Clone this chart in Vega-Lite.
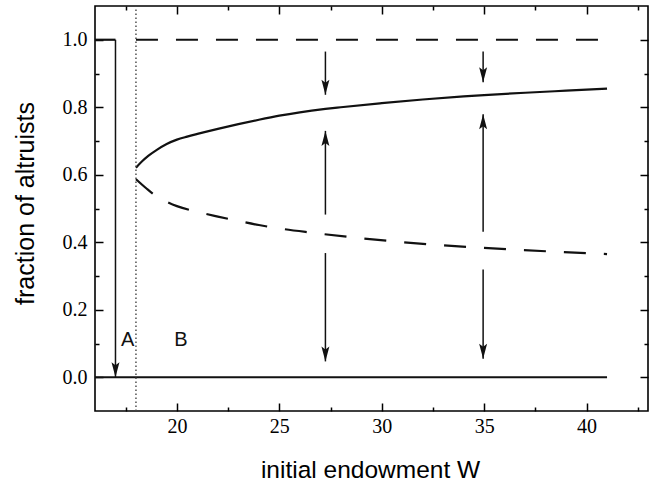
{
  "$schema": "https://vega.github.io/schema/vega-lite/v6.json",
  "autosize": "none",
  "padding": {"left": 95, "top": 6, "right": 8, "bottom": 72},
  "width": 553,
  "height": 405,
  "background": "white",
  "config": {
    "view": {"stroke": "#000", "strokeWidth": 1.6},
    "axis": {"domain": false, "grid": false, "tickColor": "#000", "tickWidth": 1.5, "labelColor": "#000", "titleColor": "#000", "titleFont": "Liberation Sans", "titleFontWeight": "normal"}
  },
  "datasets": {
    "solid": [
      {"series": "zero", "W": 16, "f": 0},
      {"series": "zero", "W": 41, "f": 0},
      {"series": "left", "W": 16, "f": 1},
      {"series": "left", "W": 17, "f": 1},
      {"series": "upper", "W": 18, "f": 0.621},
      {"series": "upper", "W": 18.3, "f": 0.64},
      {"series": "upper", "W": 18.6, "f": 0.656},
      {"series": "upper", "W": 19, "f": 0.673},
      {"series": "upper", "W": 19.5, "f": 0.691},
      {"series": "upper", "W": 20, "f": 0.704},
      {"series": "upper", "W": 20.5, "f": 0.713},
      {"series": "upper", "W": 21, "f": 0.721},
      {"series": "upper", "W": 22, "f": 0.736},
      {"series": "upper", "W": 23, "f": 0.75},
      {"series": "upper", "W": 24, "f": 0.763},
      {"series": "upper", "W": 25, "f": 0.775},
      {"series": "upper", "W": 26, "f": 0.785},
      {"series": "upper", "W": 27.25, "f": 0.795},
      {"series": "upper", "W": 28, "f": 0.8},
      {"series": "upper", "W": 30, "f": 0.812},
      {"series": "upper", "W": 32, "f": 0.823},
      {"series": "upper", "W": 34, "f": 0.832},
      {"series": "upper", "W": 35, "f": 0.836},
      {"series": "upper", "W": 37, "f": 0.843},
      {"series": "upper", "W": 39, "f": 0.849},
      {"series": "upper", "W": 41, "f": 0.855}
    ],
    "dashed": [
      {"series": "top", "W": 18, "f": 1},
      {"series": "top", "W": 41, "f": 1},
      {"series": "lower", "W": 18, "f": 0.587},
      {"series": "lower", "W": 18.5, "f": 0.56},
      {"series": "lower", "W": 19, "f": 0.536},
      {"series": "lower", "W": 19.5, "f": 0.52},
      {"series": "lower", "W": 20, "f": 0.507},
      {"series": "lower", "W": 21, "f": 0.49},
      {"series": "lower", "W": 22, "f": 0.476},
      {"series": "lower", "W": 23, "f": 0.463},
      {"series": "lower", "W": 24, "f": 0.451},
      {"series": "lower", "W": 25, "f": 0.441},
      {"series": "lower", "W": 26.5, "f": 0.429},
      {"series": "lower", "W": 28.5, "f": 0.415},
      {"series": "lower", "W": 30.5, "f": 0.403},
      {"series": "lower", "W": 32.5, "f": 0.393},
      {"series": "lower", "W": 34.5, "f": 0.385},
      {"series": "lower", "W": 36.5, "f": 0.378},
      {"series": "lower", "W": 38.5, "f": 0.372},
      {"series": "lower", "W": 41, "f": 0.365}
    ],
    "vline": [{"W": 18, "lo": -0.1, "hi": 1.1}],
    "arrows": [
      {"W": 17, "start": 1.0, "tip": 0.0},
      {"W": 27.25, "start": 0.965, "tip": 0.837},
      {"W": 27.25, "start": 0.482, "tip": 0.73},
      {"W": 27.25, "start": 0.368, "tip": 0.047},
      {"W": 34.95, "start": 0.965, "tip": 0.874},
      {"W": 34.95, "start": 0.431, "tip": 0.779},
      {"W": 34.95, "start": 0.319, "tip": 0.055}
    ],
    "labels": [
      {"W": 17.6, "f": 0.109, "text": "A"},
      {"W": 20.2, "f": 0.109, "text": "B"}
    ]
  },
  "resolve": {"axis": {"x": "independent", "y": "independent"}},
  "layer": [
    {
      "data": {"name": "solid"},
      "mark": {"type": "line", "color": "#111", "strokeWidth": 2.2, "interpolate": "monotone"},
      "encoding": {
        "x": {"field": "W", "type": "quantitative", "scale": {"domain": [16, 43], "nice": false, "zero": false},
          "axis": {"orient": "bottom", "values": [20, 25, 30, 35, 40], "tickSize": -8, "labelPadding": 13, "labelFont": "Times New Roman, Liberation Serif, DejaVu Serif, serif", "labelFontSize": 20, "labelColor": "#000", "title": "initial endowment W", "titleFont": "Liberation Sans", "titleFontWeight": "normal", "titleColor": "#000", "titleFontSize": 24.5, "titleX": 275, "titleY": 66, "titleBaseline": "alphabetic", "titleAlign": "center"}},
        "y": {"field": "f", "type": "quantitative", "scale": {"domain": [-0.1, 1.1], "nice": false, "zero": false},
          "axis": {"orient": "left", "values": [0, 0.2, 0.4, 0.6, 0.8, 1.0], "format": ".1f", "tickSize": -8, "labelPadding": 16, "labelFont": "Times New Roman, Liberation Serif, DejaVu Serif, serif", "labelFontSize": 20, "labelColor": "#000", "title": "fraction of altruists", "titleFont": "Liberation Sans", "titleFontWeight": "normal", "titleColor": "#000", "titleFontSize": 25, "titleX": -62, "titleY": 197, "titleBaseline": "alphabetic", "titleAlign": "center", "titleAngle": 270}},
        "detail": {"field": "series", "type": "nominal"}
      }
    },
    {
      "data": {"name": "dashed"},
      "mark": {"type": "line", "color": "#111", "strokeWidth": 2.2, "strokeDash": [22, 18], "interpolate": "monotone"},
      "encoding": {
        "x": {"field": "W", "type": "quantitative", "scale": {"domain": [16, 43], "nice": false, "zero": false},
          "axis": {"orient": "bottom", "values": [17.5, 22.5, 27.5, 32.5, 37.5, 42.5], "tickSize": -4, "labels": false, "title": null}},
        "y": {"field": "f", "type": "quantitative", "scale": {"domain": [-0.1, 1.1], "nice": false, "zero": false},
          "axis": {"orient": "left", "values": [0.1, 0.3, 0.5, 0.7, 0.9], "tickSize": -4, "labels": false, "title": null}},
        "detail": {"field": "series", "type": "nominal"}
      }
    },
    {
      "data": {"name": "vline"},
      "mark": {"type": "rule", "color": "#444", "strokeWidth": 1.4, "strokeDash": [1.5, 2.5]},
      "encoding": {
        "x": {"field": "W", "type": "quantitative", "scale": {"domain": [16, 43], "nice": false, "zero": false},
          "axis": {"orient": "top", "values": [20, 25, 30, 35, 40], "tickSize": -8, "labels": false, "title": null}},
        "y": {"field": "lo", "type": "quantitative", "scale": {"domain": [-0.1, 1.1], "nice": false, "zero": false},
          "axis": {"orient": "right", "values": [0, 0.2, 0.4, 0.6, 0.8, 1.0], "tickSize": -8, "labels": false, "title": null}},
        "y2": {"field": "hi"}
      }
    },
    {
      "data": {"name": "arrows"},
      "mark": {"type": "rule", "color": "#111", "strokeWidth": 1.5},
      "encoding": {
        "x": {"field": "W", "type": "quantitative", "scale": {"domain": [16, 43], "nice": false, "zero": false},
          "axis": {"orient": "top", "values": [17.5, 22.5, 27.5, 32.5, 37.5, 42.5], "tickSize": -4, "labels": false, "title": null}},
        "y": {"field": "start", "type": "quantitative", "scale": {"domain": [-0.1, 1.1], "nice": false, "zero": false},
          "axis": {"orient": "right", "values": [0.1, 0.3, 0.5, 0.7, 0.9], "tickSize": -4, "labels": false, "title": null}},
        "y2": {"field": "tip"}
      }
    },
    {
      "data": {"name": "arrows"},
      "transform": [{"filter": "datum.tip < datum.start"}],
      "mark": {"type": "point", "shape": "M0,0L-0.53,-2L0,-1.6L0.53,-2Z", "size": 225, "filled": true, "fill": "#111", "opacity": 1, "strokeWidth": 0},
      "encoding": {
        "x": {"field": "W", "type": "quantitative", "scale": {"domain": [16, 43], "nice": false, "zero": false}, "axis": null},
        "y": {"field": "tip", "type": "quantitative", "scale": {"domain": [-0.1, 1.1], "nice": false, "zero": false}, "axis": null}
      }
    },
    {
      "data": {"name": "arrows"},
      "transform": [{"filter": "datum.tip > datum.start"}],
      "mark": {"type": "point", "shape": "M0,0L-0.53,2L0,1.6L0.53,2Z", "size": 225, "filled": true, "fill": "#111", "opacity": 1, "strokeWidth": 0},
      "encoding": {
        "x": {"field": "W", "type": "quantitative", "scale": {"domain": [16, 43], "nice": false, "zero": false}, "axis": null},
        "y": {"field": "tip", "type": "quantitative", "scale": {"domain": [-0.1, 1.1], "nice": false, "zero": false}, "axis": null}
      }
    },
    {
      "data": {"name": "labels"},
      "mark": {"type": "text", "font": "Liberation Sans", "fontSize": 20, "color": "#111", "align": "center", "baseline": "middle"},
      "encoding": {
        "x": {"field": "W", "type": "quantitative", "scale": {"domain": [16, 43], "nice": false, "zero": false}, "axis": null},
        "y": {"field": "f", "type": "quantitative", "scale": {"domain": [-0.1, 1.1], "nice": false, "zero": false}, "axis": null},
        "text": {"field": "text"}
      }
    }
  ]
}
